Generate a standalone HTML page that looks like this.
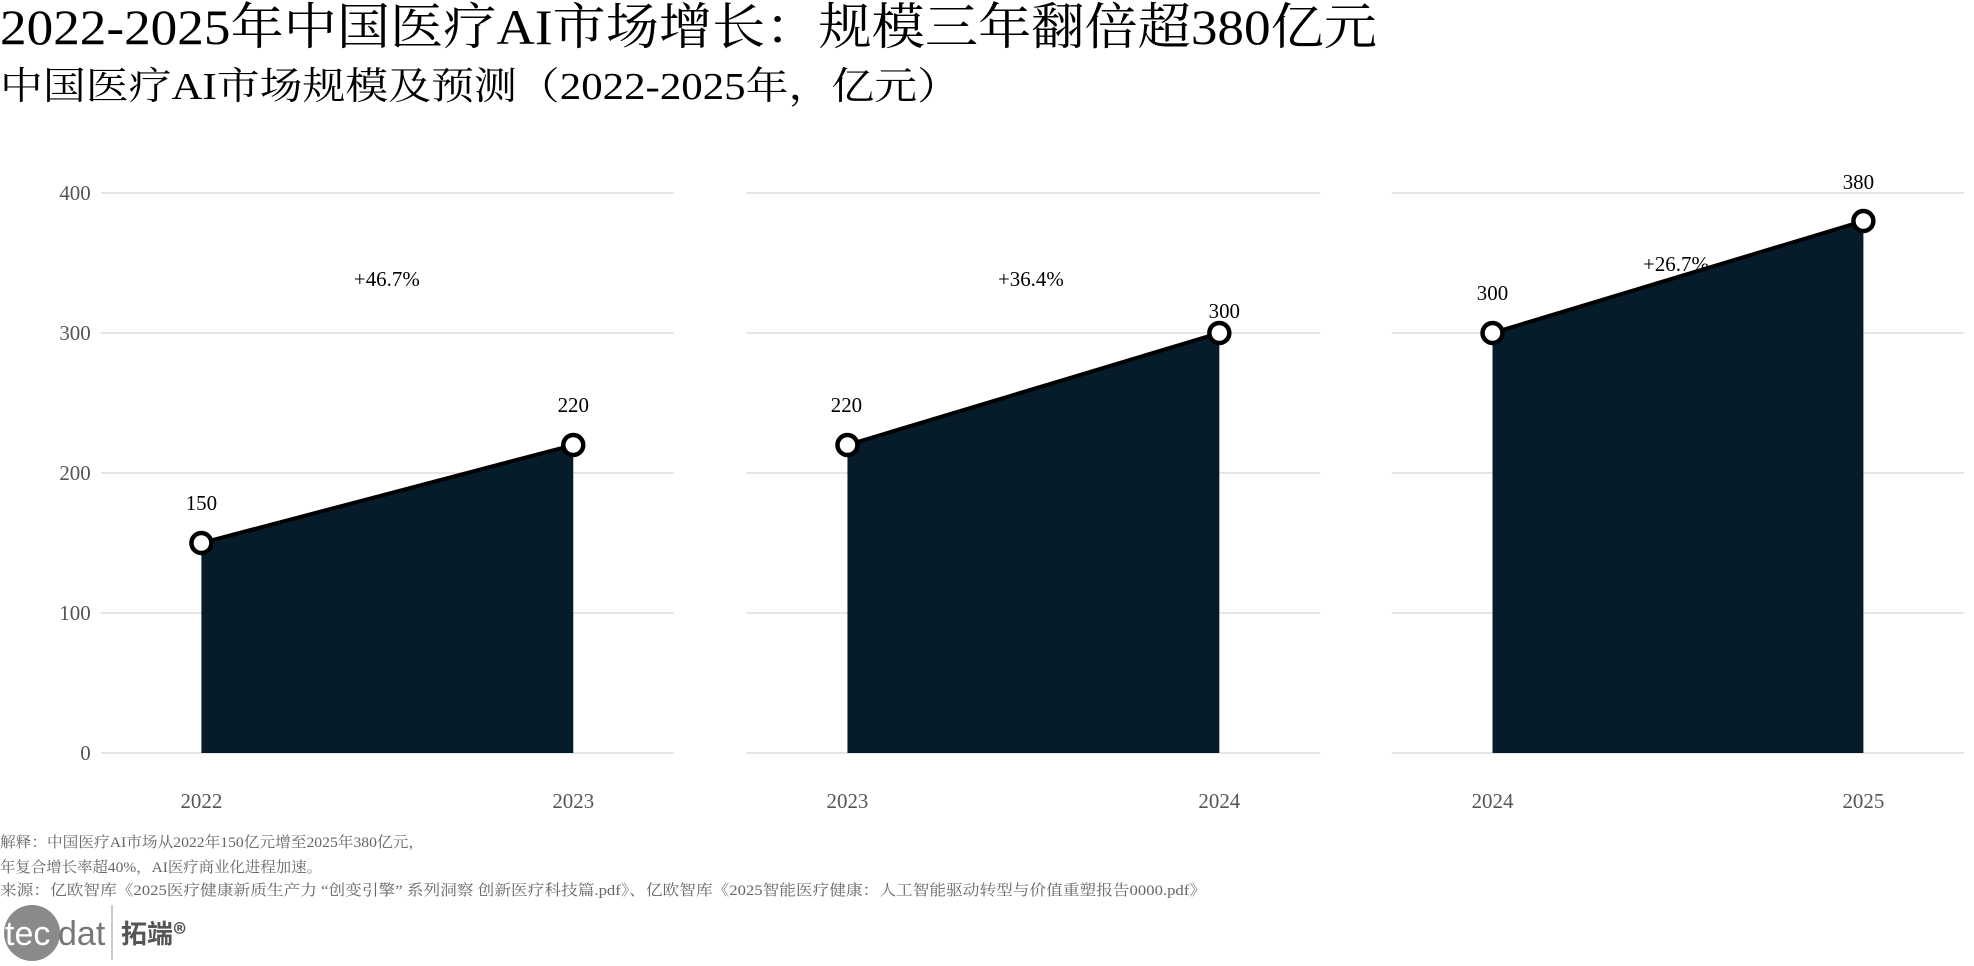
<!DOCTYPE html>
<html><head><meta charset="utf-8"><style>
html,body{margin:0;padding:0;background:#fff;}
svg{display:block;}
text{font-family:"Liberation Serif","Noto Serif CJK SC",serif;}
</style></head><body>
<svg width="1974" height="966" viewBox="0 0 1974 966" xmlns="http://www.w3.org/2000/svg">
<text x="0" y="44" font-size="50" fill="#000" textLength="1377" lengthAdjust="spacingAndGlyphs">2022-2025年中国医疗AI市场增长：规模三年翻倍超380亿元</text>
<text x="0" y="99" font-size="38" fill="#000" textLength="960" lengthAdjust="spacingAndGlyphs">中国医疗AI市场规模及预测（2022-2025年，亿元）</text>
<g transform="scale(0.997,1)">
<g stroke="#e6e6e6" stroke-width="2">
<line x1="101" x2="676" y1="193" y2="193"/><line x1="101" x2="676" y1="333" y2="333"/><line x1="101" x2="676" y1="473" y2="473"/><line x1="101" x2="676" y1="613" y2="613"/><line x1="101" x2="676" y1="753" y2="753"/>
<line x1="749" x2="1324" y1="193" y2="193"/><line x1="749" x2="1324" y1="333" y2="333"/><line x1="749" x2="1324" y1="473" y2="473"/><line x1="749" x2="1324" y1="613" y2="613"/><line x1="749" x2="1324" y1="753" y2="753"/>
<line x1="1396" x2="1970" y1="193" y2="193"/><line x1="1396" x2="1970" y1="333" y2="333"/><line x1="1396" x2="1970" y1="473" y2="473"/><line x1="1396" x2="1970" y1="613" y2="613"/><line x1="1396" x2="1970" y1="753" y2="753"/>
</g>
<g font-size="21" fill="#555" text-anchor="end">
<text x="91" y="200">400</text><text x="91" y="340">300</text><text x="91" y="480">200</text><text x="91" y="620">100</text><text x="91" y="760">0</text>
</g>
<g font-size="21" fill="#555" text-anchor="middle">
<text x="202" y="808">2022</text><text x="575" y="808">2023</text>
<text x="850" y="808">2023</text><text x="1223" y="808">2024</text>
<text x="1497" y="808">2024</text><text x="1869" y="808">2025</text>
</g>
<g fill="#071c2a">
<polygon points="202,543 575,445 575,753 202,753"/>
<polygon points="850,445 1223,333 1223,753 850,753"/>
<polygon points="1497,333 1869,221 1869,753 1497,753"/>
</g>
<g stroke="#000" stroke-width="4" fill="none">
<line x1="202" y1="543" x2="575" y2="445"/>
<line x1="850" y1="445" x2="1223" y2="333"/>
<line x1="1497" y1="333" x2="1869" y2="221"/>
</g>
<g stroke="#000" stroke-width="4.5" fill="#fff">
<circle cx="202" cy="543" r="10"/><circle cx="575" cy="445" r="10"/>
<circle cx="850" cy="445" r="10"/><circle cx="1223" cy="333" r="10"/>
<circle cx="1497" cy="333" r="10"/><circle cx="1869" cy="221" r="10"/>
</g>
<g font-size="21" fill="#000" text-anchor="middle">
<text x="202" y="510">150</text><text x="575" y="412">220</text>
<text x="849" y="412">220</text><text x="1228" y="318">300</text>
<text x="1497" y="300">300</text><text x="1864" y="189">380</text>
<text x="388" y="286">+46.7%</text><text x="1034" y="286">+36.4%</text><text x="1681" y="271">+26.7%</text>
</g>
</g>
<g font-size="15" fill="#666">
<text x="0" y="847" textLength="424" lengthAdjust="spacingAndGlyphs">解释：中国医疗AI市场从2022年150亿元增至2025年380亿元，</text>
<text x="0" y="872" textLength="322" lengthAdjust="spacingAndGlyphs">年复合增长率超40%，AI医疗商业化进程加速。</text>
<text x="0" y="895" textLength="1206" lengthAdjust="spacingAndGlyphs">来源：亿欧智库《2025医疗健康新质生产力 “创变引擎” 系列洞察 创新医疗科技篇.pdf》、亿欧智库《2025智能医疗健康：人工智能驱动转型与价值重塑报告0000.pdf》</text>
</g>
<circle cx="32" cy="933" r="28" fill="#8a8a8a"/>
<text x="5" y="945" font-size="34" fill="#fff" style="font-family:'Liberation Sans',sans-serif">tec</text>
<text x="58" y="945" font-size="34" fill="#777" style="font-family:'Liberation Sans',sans-serif">dat</text>
<line x1="112" y1="905" x2="112" y2="960" stroke="#bbb" stroke-width="1.5"/>
<text x="121" y="943" font-size="26" font-weight="bold" fill="#555" style="font-family:'Noto Sans CJK SC',sans-serif">拓端®</text>
</svg>
</body></html>
